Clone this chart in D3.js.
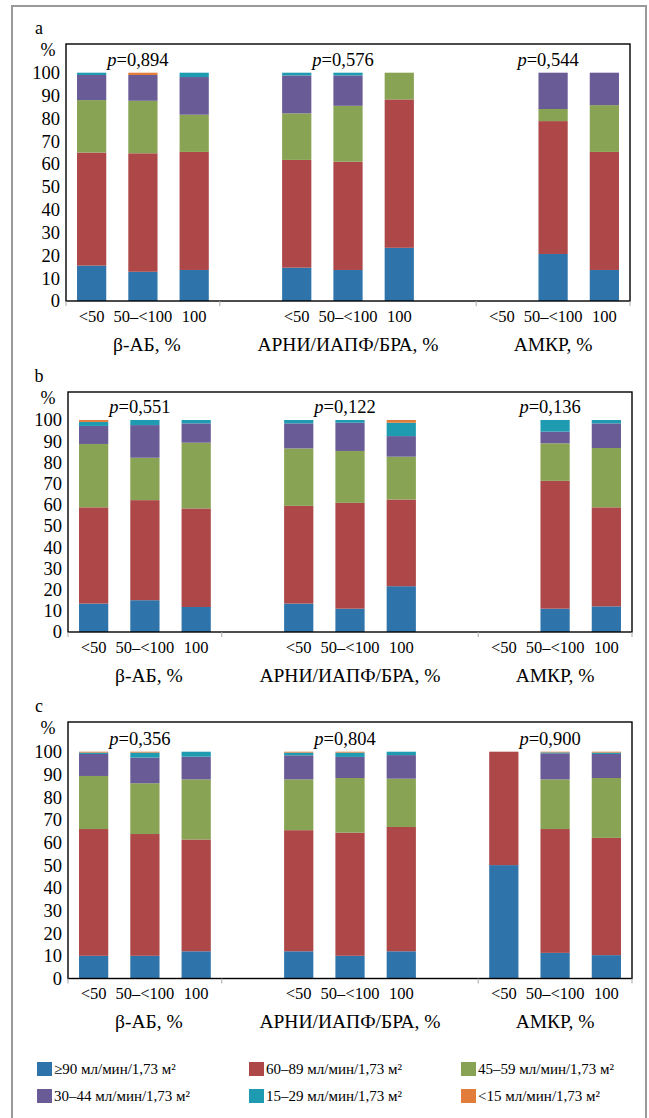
<!DOCTYPE html>
<html>
<head>
<meta charset="utf-8">
<script src="https://cdn.jsdelivr.net/npm/d3@7/dist/d3.min.js"></script>
<style>
  body { margin: 0; background: #fff; }
  svg, svg text { font-family: "Liberation Serif", "DejaVu Serif", serif; }
</style>
</head>
<body>
<div id="chart"></div>
<script>
// categories
const subCategories = ['<50', '50–<100', '100'];
const groupLabels = ['β-АБ, %', 'АРНИ/ИАПФ/БРА, %', 'АМКР, %'];
const seriesNames = [
  '≥90 мл/мин/1,73 м²',
  '60–89 мл/мин/1,73 м²',
  '45–59 мл/мин/1,73 м²',
  '30–44 мл/мин/1,73 м²',
  '15–29 мл/мин/1,73 м²',
  '<15 мл/мин/1,73 м²'
];
const seriesColors = ['#2e74aa', '#ad4748', '#89a354', '#695b96', '#1f9bb1', '#e27c3b'];
const yTicks = d3.range(0, 101, 10);
const panelLetters = ['a', 'b', 'c'];

// p-values per group
const pValuesA = ['0,894', '0,576', '0,544'];
const pValuesB = ['0,551', '0,122', '0,136'];
const pValuesC = ['0,356', '0,804', '0,900'];

// rows: β-АБ <50, 50–<100, 100, АРНИ <50, 50–<100, 100, АМКР <50, 50–<100, 100
// cols: ≥90, 60–89, 45–59, 30–44, 15–29, <15 (%)
const valuesA = [
  [15.5, 49.5, 23.0, 11.0, 1.0, 0],
  [12.8, 51.9, 23.0, 11.3, 0, 1.0],
  [13.6, 51.7, 16.3, 16.5, 1.9, 0],
  [14.6, 47.2, 20.4, 16.6, 1.2, 0],
  [13.6, 47.4, 24.5, 13.3, 1.2, 0],
  [23.3, 65.0, 11.7, 0, 0, 0],
  null,
  [20.6, 58.2, 5.3, 15.9, 0, 0],
  [13.6, 51.7, 20.5, 14.2, 0, 0]
];
const valuesB = [
  [13.4, 45.4, 29.9, 8.5, 1.9, 0.9],
  [15.0, 47.2, 20.0, 15.4, 2.4, 0],
  [11.8, 46.5, 31.0, 9.1, 1.6, 0],
  [13.4, 46.1, 27.1, 11.8, 1.6, 0],
  [11.0, 49.9, 24.5, 13.3, 1.3, 0],
  [21.6, 40.9, 20.2, 9.7, 6.3, 1.3],
  null,
  [11.0, 60.3, 17.7, 5.5, 5.5, 0],
  [12.1, 46.7, 28.0, 11.6, 1.6, 0]
];
const valuesC = [
  [10.0, 55.9, 23.4, 9.7, 0.6, 0.4],
  [10.0, 53.7, 22.4, 11.3, 2.2, 0.4],
  [12.0, 49.3, 26.5, 10.0, 2.2, 0],
  [12.0, 53.4, 22.4, 10.6, 1.2, 0.4],
  [10.0, 54.3, 24.1, 9.3, 1.9, 0.4],
  [12.0, 54.8, 21.3, 10.4, 1.5, 0],
  [50.0, 50.0, 0, 0, 0, 0],
  [11.3, 54.6, 21.9, 11.5, 0.4, 0.3],
  [10.3, 51.7, 26.4, 10.6, 0.6, 0.4]
];

const width = 649;
const height = 1118;
const fontFamily = '"Liberation Serif", "DejaVu Serif", serif';

const svg = d3.select('#chart')
  .append('svg')
  .attr('width', width)
  .attr('height', height)
  .attr('font-family', fontFamily);

svg.append('rect')
  .attr('width', width)
  .attr('height', height)
  .attr('fill', '#fff');

// outer frame
svg.append('rect')
  .attr('x', 12)
  .attr('y', 6)
  .attr('width', 634)
  .attr('height', 1130)
  .attr('fill', 'none')
  .attr('stroke', '#9a9a9a')
  .attr('stroke-width', 2);

const panels = [
  { letter: panelLetters[0], values: valuesA, pValues: pValuesA, left: 66, right: 630, top: 44, y0: 301, y100: 72.7 },
  { letter: panelLetters[1], values: valuesB, pValues: pValuesB, left: 68, right: 632, top: 392, y0: 632, y100: 420 },
  { letter: panelLetters[2], values: valuesC, pValues: pValuesC, left: 68, right: 632, top: 722, y0: 978.5, y100: 751.7 }
];

// 11 slots: 3 bars, gap, 3 bars, gap, 3 bars
const slotOf = (g, s) => g * 4 + s;

const stack = d3.stack()
  .keys(d3.range(seriesNames.length))
  .value((d, k) => d.vals[k]);

const drawPanel = (p) => {
  const g = svg.append('g');

  const x = d3.scaleBand()
    .domain(d3.range(11))
    .range([p.left, p.right])
    .paddingInner(0.43)
    .paddingOuter(0.215);
  const step = x.step();

  const y = d3.scaleLinear().domain([0, 100]).range([p.y0, p.y100]);

  const bars = [];
  groupLabels.forEach((gl, gi) => {
    subCategories.forEach((sc, si) => {
      const vals = p.values[gi * 3 + si];
      if (vals) bars.push({ slot: slotOf(gi, si), vals });
    });
  });

  const layers = stack(bars);

  g.selectAll('g.layer')
    .data(layers)
    .enter()
    .append('g')
    .attr('fill', (d, i) => seriesColors[i])
    .selectAll('rect')
    .data((d) => d)
    .enter()
    .append('rect')
    .attr('x', (d) => x(d.data.slot))
    .attr('width', x.bandwidth())
    .attr('y', (d) => y(d[1]))
    .attr('height', (d) => Math.max(0, y(d[0]) - y(d[1])));

  // plot frame
  g.append('rect')
    .attr('x', p.left)
    .attr('y', p.top)
    .attr('width', p.right - p.left)
    .attr('height', p.y0 - p.top)
    .attr('fill', 'none')
    .attr('stroke', '#000')
    .attr('stroke-width', 1.4);

  // y axis labels
  g.selectAll('text.ytick')
    .data(yTicks)
    .enter()
    .append('text')
    .attr('x', p.left - 6)
    .attr('y', (d) => y(d))
    .attr('dy', '0.35em')
    .attr('text-anchor', 'end')
    .style('font-size', '18.5px')
    .text((d) => d);

  g.append('text')
    .attr('x', 48)
    .attr('y', p.top + 6)
    .attr('dy', '0.35em')
    .attr('text-anchor', 'middle')
    .style('font-size', '18px')
    .text('%');

  g.append('text')
    .attr('x', 39)
    .attr('y', p.top - 16)
    .attr('dy', '0.35em')
    .attr('text-anchor', 'middle')
    .style('font-size', '18px')
    .text(p.letter);

  // group separator ticks on the x axis
  g.selectAll('line.sep')
    .data([0, 3, 8, 11])
    .enter()
    .append('line')
    .attr('x1', (d) => p.left + d * step)
    .attr('x2', (d) => p.left + d * step)
    .attr('y1', p.y0)
    .attr('y2', p.y0 + 5)
    .attr('stroke', '#aaa')
    .attr('stroke-width', 1);

  // category labels
  groupLabels.forEach((gl, gi) => {
    subCategories.forEach((sc, si) => {
      g.append('text')
        .attr('x', x(slotOf(gi, si)) + x.bandwidth() / 2)
        .attr('y', p.y0 + 15)
        .attr('dy', '0.35em')
        .attr('text-anchor', 'middle')
        .style('font-size', '16.5px')
        .text(sc);
    });

    const mid = x(slotOf(gi, 1)) + x.bandwidth() / 2;
    g.append('text')
      .attr('x', mid + (gi === 0 ? 4 : 0))
      .attr('y', p.y0 + 43)
      .attr('dy', '0.35em')
      .attr('text-anchor', 'middle')
      .style('font-size', '19.5px')
      .text(gl);

    const pt = g.append('text')
      .attr('x', mid - 5)
      .attr('y', y(100) - 13)
      .attr('dy', '0.35em')
      .attr('text-anchor', 'middle')
      .style('font-size', '18.5px');
    pt.append('tspan').style('font-style', 'italic').text('p');
    pt.append('tspan').text('=' + p.pValues[gi]);
  });
};

panels.forEach(drawPanel);

// legend: 3 columns x 2 rows
const legendCols = [37, 249, 461];
const legendRows = [1062, 1089];

const legend = svg.append('g');
seriesNames.forEach((name, i) => {
  const cx = legendCols[i % 3];
  const cy = legendRows[Math.floor(i / 3)];
  legend.append('rect')
    .attr('x', cx)
    .attr('y', cy)
    .attr('width', 15)
    .attr('height', 14)
    .attr('fill', seriesColors[i]);
  legend.append('text')
    .attr('x', cx + 17)
    .attr('y', cy + 7)
    .attr('dy', '0.35em')
    .style('font-size', '15px')
    .text(name);
});
</script>
</body>
</html>
